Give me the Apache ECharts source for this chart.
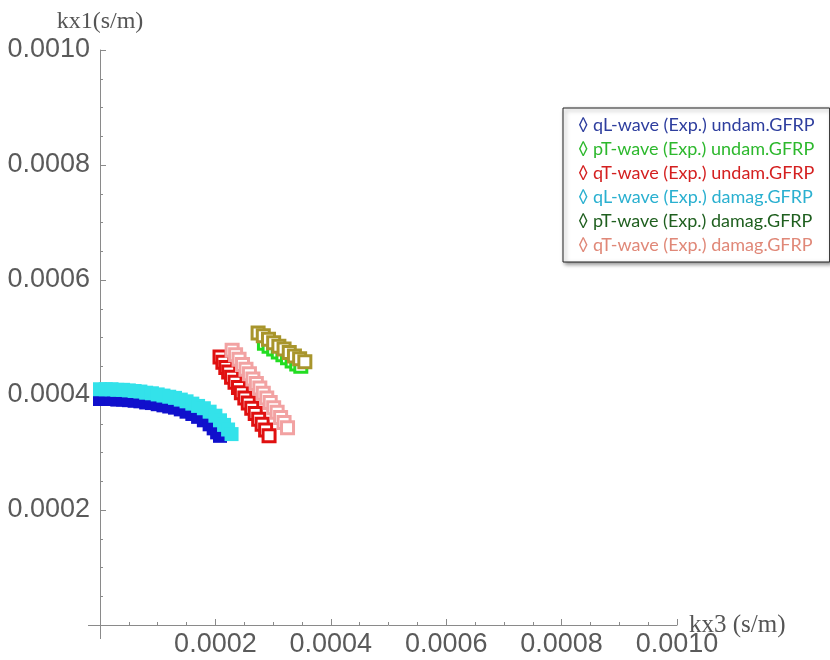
<!DOCTYPE html>
<html><head><meta charset="utf-8">
<script src="https://cdn.jsdelivr.net/npm/echarts@6/dist/echarts.min.js"></script>
<style>html,body{margin:0;padding:0;background:#fff}#c{width:830px;height:660px}</style>
</head><body><div id="c"></div>
<script>
// units: s/m (values read in 1e-4)
const seriesNames = [
  'qL-wave (Exp.) undam.GFRP',
  'pT-wave (Exp.) undam.GFRP',
  'qT-wave (Exp.) undam.GFRP',
  'qL-wave (Exp.) damag.GFRP',
  'pT-wave (Exp.) damag.GFRP',
  'qT-wave (Exp.) damag.GFRP'
];
const xTicks = [0, 0.0002, 0.0004, 0.0006, 0.0008, 0.0010];
const yTicks = [0, 0.0002, 0.0004, 0.0006, 0.0008, 0.0010];

const qLundam_kx3 = [0.00,0.10,0.20,0.30,0.40,0.50,0.60,0.70,0.80,0.90,1.00,1.10,1.20,1.30,1.40,1.50,1.60,1.70,1.80,1.90,1.97,2.03,2.08];
const qLundam_kx1 = [3.93,3.93,3.93,3.92,3.92,3.91,3.90,3.89,3.87,3.86,3.84,3.82,3.80,3.78,3.75,3.71,3.67,3.62,3.56,3.49,3.42,3.35,3.29];

const pTundam_kx3 = [2.85,2.93,3.01,3.09,3.17,3.25,3.33,3.41,3.48];
const pTundam_kx1 = [4.90,4.85,4.80,4.75,4.70,4.65,4.59,4.54,4.50];

const qTundam_kx3 = [2.08,2.13,2.18,2.23,2.28,2.34,2.40,2.45,2.51,2.57,2.63,2.69,2.75,2.81,2.87,2.93];
const qTundam_kx1 = [4.66,4.57,4.48,4.40,4.31,4.22,4.13,4.04,3.95,3.86,3.77,3.68,3.58,3.49,3.39,3.29];

const qLdamag_kx3 = [0.00,0.10,0.20,0.30,0.40,0.50,0.60,0.70,0.80,0.90,1.00,1.10,1.20,1.30,1.40,1.50,1.60,1.70,1.80,1.90,2.00,2.08,2.15,2.22,2.28];
const qLdamag_kx1 = [4.10,4.10,4.10,4.09,4.09,4.08,4.07,4.06,4.04,4.03,4.01,3.99,3.97,3.95,3.92,3.89,3.85,3.81,3.77,3.71,3.64,3.56,3.48,3.40,3.32];

const pTdamag_kx3 = [2.74,2.83,2.92,3.01,3.10,3.19,3.28,3.37,3.46,3.55];
const pTdamag_kx1 = [5.08,5.03,4.97,4.91,4.85,4.80,4.74,4.68,4.63,4.58];

const qTdamag_kx3 = [2.29,2.35,2.41,2.47,2.53,2.59,2.65,2.71,2.77,2.83,2.89,2.95,3.01,3.07,3.13,3.19,3.25];
const qTdamag_kx1 = [4.78,4.70,4.62,4.53,4.45,4.37,4.28,4.20,4.12,4.03,3.95,3.87,3.78,3.70,3.61,3.52,3.43];

const markerColors = ['#1010cc','#22dd22','#e01010','#33e2ea','#a8952c','#f2a2a2'];
const textColors   = ['#2e3e9e','#2db82d','#d42020','#2ab0d0','#1f5f1f','#e08878'];
const filled       = [true,false,false,true,false,false];
const sizes        = [14,12,12,14,12,12];

const xs = [qLundam_kx3,pTundam_kx3,qTundam_kx3,qLdamag_kx3,pTdamag_kx3,qTdamag_kx3];
const ys = [qLundam_kx1,pTundam_kx1,qTundam_kx1,qLdamag_kx1,pTdamag_kx1,qTdamag_kx1];

const chart = echarts.init(document.getElementById('c'));
const axisGrey = '#8a8a8a';
const labelStyle = {color:'#5a5a5a', fontFamily:'Liberation Sans', fontSize:27};

const series = seriesNames.map((n,i)=>({
  name:n, type:'scatter', symbol:'rect', symbolSize:sizes[i],
  data: xs[i].map((x,j)=>[x*1e-4, ys[i][j]*1e-4]),
  itemStyle: filled[i] ? {color:markerColors[i], opacity:1}
                       : {color:'#ffffff', borderColor:markerColors[i], borderWidth:3, opacity:1},
  emphasis:{disabled:true}, animation:false, z:2+i
}));

chart.setOption({
  animation:false,
  grid:{left:100, right:153, top:50, bottom:35},
  legend:{
    orient:'vertical', left:563, top:108,
    backgroundColor:'#fff', borderColor:'#222', borderWidth:1,
    shadowBlur:4, shadowColor:'rgba(0,0,0,0.45)', shadowOffsetX:2, shadowOffsetY:2,
    padding:[8,15,8,10], itemGap:6, itemWidth:0, itemHeight:18, selectedMode:false,
    formatter: n => '\u25CA ' + n,
    data: seriesNames.map((n,i)=>({name:n, icon:'none', textStyle:{color:textColors[i], fontFamily:'Lato', fontSize:18}}))
  },
  xAxis:{
    type:'value', min:xTicks[0], max:xTicks[xTicks.length-1], interval:xTicks[1]-xTicks[0],
    name:'kx3 (s/m)', nameLocation:'end', nameGap:12, nameMoveOverlap:false,
    nameTextStyle:{color:'#555', fontFamily:'Liberation Serif', fontSize:25, verticalAlign:'middle'},
    axisLine:{show:true, onZero:false, lineStyle:{color:axisGrey, width:1}},
    axisTick:{show:true, inside:true, length:6, lineStyle:{color:axisGrey}},
    minorTick:{show:true, splitNumber:4, length:3, lineStyle:{color:axisGrey}},
    splitLine:{show:false},
    axisLabel:Object.assign({margin:6, formatter:v=> v===0?'':v.toFixed(4)}, labelStyle)
  },
  yAxis:{
    type:'value', min:yTicks[0], max:yTicks[yTicks.length-1], interval:yTicks[1]-yTicks[0],
    name:'kx1(s/m)', nameLocation:'end', nameGap:16, nameMoveOverlap:false,
    nameTextStyle:{color:'#555', fontFamily:'Liberation Serif', fontSize:24, align:'center'},
    axisLine:{show:true, onZero:false, lineStyle:{color:axisGrey, width:1}},
    axisTick:{show:true, inside:true, length:6, lineStyle:{color:axisGrey}},
    minorTick:{show:true, splitNumber:4, length:3, lineStyle:{color:axisGrey}},
    splitLine:{show:false},
    axisLabel:Object.assign({margin:10, formatter:v=> v===0?'':v.toFixed(4)}, labelStyle)
  },
  series: series
});

// small Mathematica-style overshoot of axis lines past the origin
const o = chart.convertToPixel({gridIndex:0},[0,0]);
chart.setOption({graphic:[
  {type:'line', shape:{x1:o[0]-12, y1:o[1]+0.5, x2:o[0], y2:o[1]+0.5}, style:{stroke:axisGrey, lineWidth:1}, silent:true},
  {type:'line', shape:{x1:o[0]+0.5, y1:o[1], x2:o[0]+0.5, y2:o[1]+14}, style:{stroke:axisGrey, lineWidth:1}, silent:true}
]});
</script></body></html>
